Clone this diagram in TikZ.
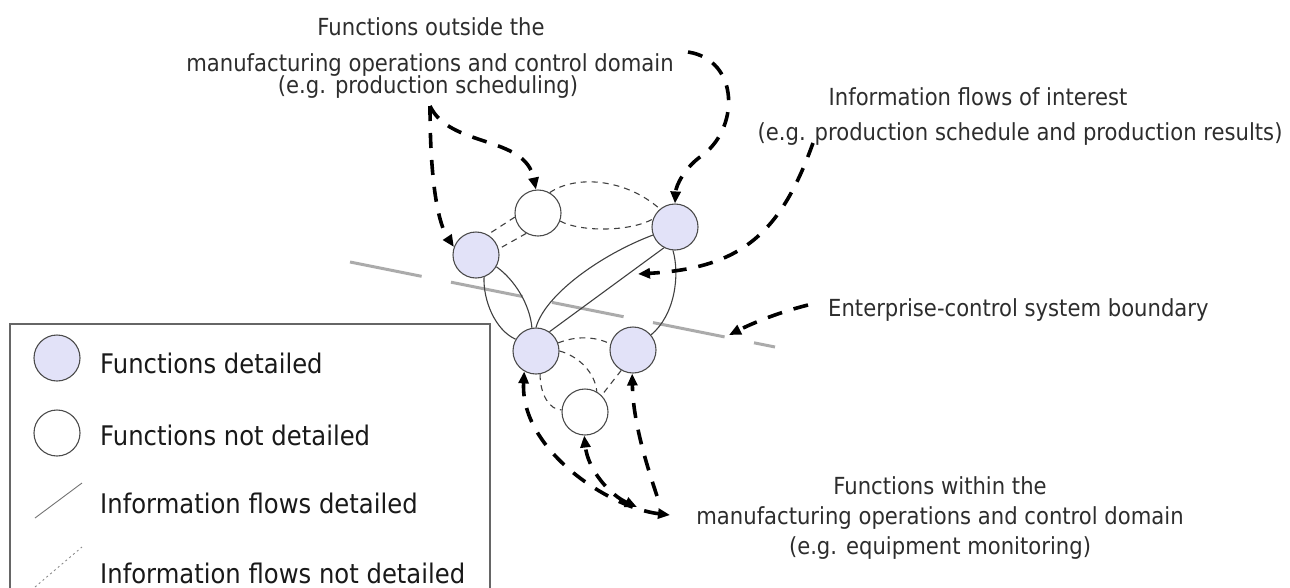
\documentclass[tikz,border=0pt]{standalone}
\usepackage{fontspec}
\setmainfont{DejaVu Sans}[FakeStretch=0.9]
\usetikzlibrary{arrows.meta}
\definecolor{fdet}{RGB}{226,226,248}
\definecolor{txt}{RGB}{45,45,45}
\tikzset{
  fn/.style={circle, draw=black!70, line width=1.1pt, minimum size=46pt, inner sep=0pt},
  fdetail/.style={fn, fill=fdet},
  fnot/.style={fn, fill=white},
  flowd/.style={draw=black!75, line width=1.1pt},
  flown/.style={draw=black!75, line width=1.1pt, dash pattern=on 6pt off 5pt},
  callout/.style={draw=black, line width=3.6pt, dash pattern=on 15pt off 12pt},
  tipend/.style={-{Triangle[length=12pt,width=10pt]}},
  tipboth/.style={{Triangle[length=12pt,width=10pt]}-{Triangle[length=12pt,width=10pt]}},
  ann/.style={font=\fontsize{23.5}{30}\selectfont, text=txt, inner sep=0pt, anchor=base},
  leg/.style={font=\fontsize{27}{32}\selectfont, text=black!90, inner sep=0pt, anchor=base west},
  bnd/.style={draw=black!33, line width=3pt, dash pattern=on 73pt off 30pt},
}
\begin{document}
\begin{tikzpicture}[x=1pt,y=-1pt]
\useasboundingbox (0,0) rectangle (1290,587);
\clip (0,0) rectangle (1290,587);

% system boundary
\coordinate (b1) at (350,262);
\coordinate (b2) at (775,347);
\draw[bnd] (b1) -- (b2);

% functions
\node[fnot]    (nt) at (538,213) {};
\node[fdetail] (dr) at (675,227) {};
\node[fdetail] (dl) at (476,255) {};
\node[fdetail] (bl) at (536,351) {};
\node[fdetail] (br) at (633,350) {};
\node[fnot]    (nb) at (585,412) {};

% information flows
\draw[flown] (nt.60) .. controls (575,175) and (625,178) .. (dr.130);
\draw[flown] (nt.-20) .. controls (580,232) and (630,232) .. (dr.160);
\draw[flown] (nt.190) -- (dl.60);
\draw[flown] (nt.240) -- (dl.15);
\draw[flowd] (dl.-70) .. controls (483,300) and (495,330) .. (bl.150);
\draw[flowd] (dl.-30) .. controls (515,280) and (530,305) .. (bl.100);
\draw[flowd] (dr.200) .. controls (600,255) and (545,295) .. (bl.90);
\draw[flowd] (dr.-118) -- (bl.55);
\draw[flowd] (dr.-95) .. controls (680,275) and (675,315) .. (br.40);
\draw[flown] (bl.20) .. controls (575,336) and (595,336) .. (br.165);
\draw[flown] (bl.0) .. controls (578,356) and (595,372) .. (nb.60);
\draw[flown] (bl.-80) .. controls (540,395) and (550,410) .. (nb.175);
\draw[flown] (br.-120) -- (nb.45);

% annotations
\node[ann] (tout1) at (431,35) {Functions outside the};
\node[ann] (tout2) at (430,71) {manufacturing operations and control domain};
\node[ann] (tout3) at (428,93) {(e.g. production scheduling)};
\node[ann] (tint1) at (978,105) {Information flows of interest};
\node[ann] (tint2) at (1020,140) {(e.g. production schedule and production results)};
\node[ann, anchor=base west] (tbnd) at (828,316) {Enterprise-control system boundary};
\node[ann] (tin1) at (940,494) {Functions within the};
\node[ann] (tin2) at (940,524) {manufacturing operations and control domain};
\node[ann] (tin3) at (940,554) {(e.g. equipment monitoring)};

% callout arrows
\coordinate (ca) at (430,106);
\draw[callout,tipend] (ca) .. controls (430,170) and (436,220) .. (dl.160);
\draw[callout,tipend] (ca) .. controls (450,148) and (525,135) .. (nt.95);
\coordinate (cc) at (688,52);
\draw[callout,tipend] (cc) .. controls (740,60) and (740,130) .. (700,157) .. controls (685,168) and (676,185) .. (dr.90);
\coordinate (cd) at (813,143);
\coordinate (cdend) at (638,274);
\draw[callout,tipend] (cd) .. controls (780,235) and (740,268) .. (cdend);
\coordinate (ce) at (808,305);
\coordinate (ceend) at (729,335);
\draw[callout,tipend] (ce) .. controls (780,312) and (755,322) .. (ceend);
\coordinate (cf1) at (670,515);
\coordinate (cf2) at (637,507);
\coordinate (cf3) at (657,496);
\draw[callout,tipboth] (cf1) .. controls (610,508) and (520,450) .. (bl.-120);
\draw[callout,tipboth] (cf2) .. controls (610,495) and (588,470) .. (nb.-92);
\draw[callout,tipend] (cf3) .. controls (645,460) and (633,420) .. (br.-92);

% legend
\draw[draw=black!60, line width=1.5pt] (10,324) rectangle (490,600);
\node[fdetail] (l1) at (57,358) {};
\node[leg] (l1t) at (100,373) {Functions detailed};
\node[fnot] (l2) at (57,433) {};
\node[leg] (l2t) at (100,445) {Functions not detailed};
\coordinate (l3a) at (35,518);
\coordinate (l3b) at (82,483);
\draw[draw=black!55, line width=0.9pt] (l3a) -- (l3b);
\node[leg] (l3t) at (100,513) {Information flows detailed};
\coordinate (l4a) at (35,587);
\coordinate (l4b) at (82,547);
\draw[draw=black!45, line width=0.9pt, dash pattern=on 2pt off 3pt] (l4a) -- (l4b);
\node[leg] (l4t) at (100,583) {Information flows not detailed};
\end{tikzpicture}
\end{document}
